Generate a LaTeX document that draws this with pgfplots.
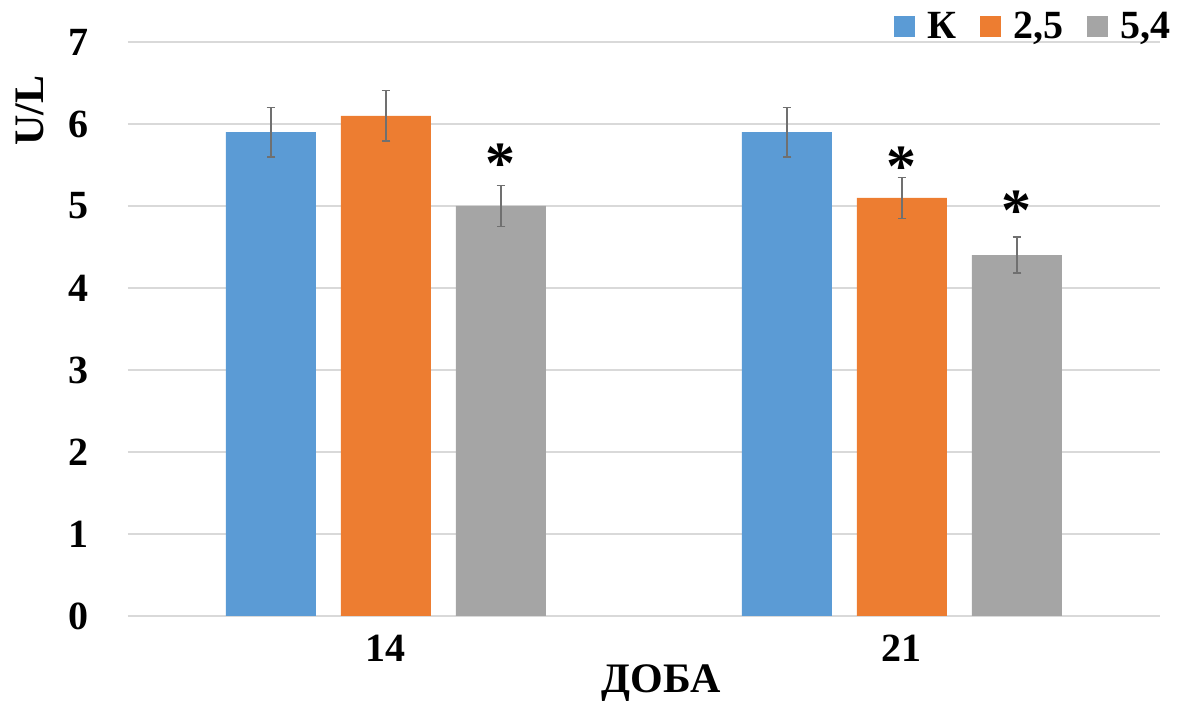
\documentclass[border=0pt]{standalone}
\usepackage{fontspec}
\setmainfont{Liberation Serif}
\usepackage{pgfplots}
\pgfplotsset{compat=1.18}
\definecolor{cK}{HTML}{5B9BD5}
\definecolor{cO}{HTML}{ED7D31}
\definecolor{cG}{HTML}{A5A5A5}
\definecolor{cGrid}{HTML}{D9D9D9}
\definecolor{cErr}{HTML}{707070}
\begin{document}
\begin{tikzpicture}
\path[use as bounding box] (-64pt,-44pt) rectangle (531.5pt,308pt);
\begin{axis}[
  at={(0,0)}, anchor=south west, scale only axis,
  width=516pt, height=287pt,
  ybar=12.5pt, bar width=45pt,
  xmin=-0.5, xmax=1.5, ymin=0, ymax=7,
  xtick={0,1}, xticklabels={14,21},
  ytick={0,1,2,3,4,5,6,7},
  axis line style={draw=none},
  major tick length=0pt,
  ymajorgrids, grid style={draw=cGrid, line width=0.75pt},
  /pgf/number format/assume math mode=true,
  tick label style={font=\fontsize{20}{24}\selectfont\bfseries},
  label style={font=\fontsize{21}{24}\selectfont\bfseries},
  yticklabel style={anchor=east, xshift=-16pt},
  xticklabel style={anchor=north, yshift=-6pt},
  xlabel={ДОБА}, ylabel={U/L},
  xlabel style={at={(axis description cs:0.517,-0.117)}, anchor=center},
  ylabel style={at={(axis description cs:-0.095,0.88)}, anchor=center},
  legend style={at={(axis description cs:0.878,1.026)}, anchor=center, draw=none, fill=none,
    font=\fontsize{20}{24}\selectfont\bfseries, legend columns=-1,
    /tikz/every even column/.append style={column sep=10pt}},
  legend image code/.code={\fill[#1] (0pt,-5pt) rectangle (10.5pt,5.5pt); \path (14.5pt,0pt);},
  error bars/y dir=both, error bars/y explicit,
  error bars/error bar style={line width=0.75pt, draw=cErr},
  error bars/error mark options={rotate=90, mark size=2.2pt, line width=0.75pt, draw=cErr},
]
\addplot[fill=cK, draw=none] coordinates {(0,5.9) +- (0,0.3) (1,5.9) +- (0,0.3)};
\addplot[fill=cO, draw=none] coordinates {(0,6.1) +- (0,0.31) (1,5.1) +- (0,0.25)};
\addplot[fill=cG, draw=none] coordinates {(0,5.0) +- (0,0.25) (1,4.4) +- (0,0.22)};
\legend{К,{2,5},{5,4}}
\node[font=\fontsize{30}{30}\selectfont\bfseries, xshift=57.5pt, yshift=-6pt] at (axis cs:0,5.66) {*};
\node[font=\fontsize{30}{30}\selectfont\bfseries, yshift=-6pt] at (axis cs:1,5.62) {*};
\node[font=\fontsize{30}{30}\selectfont\bfseries, xshift=57.5pt, yshift=-6pt] at (axis cs:1,5.09) {*};
\end{axis}
\end{tikzpicture}
\end{document}
